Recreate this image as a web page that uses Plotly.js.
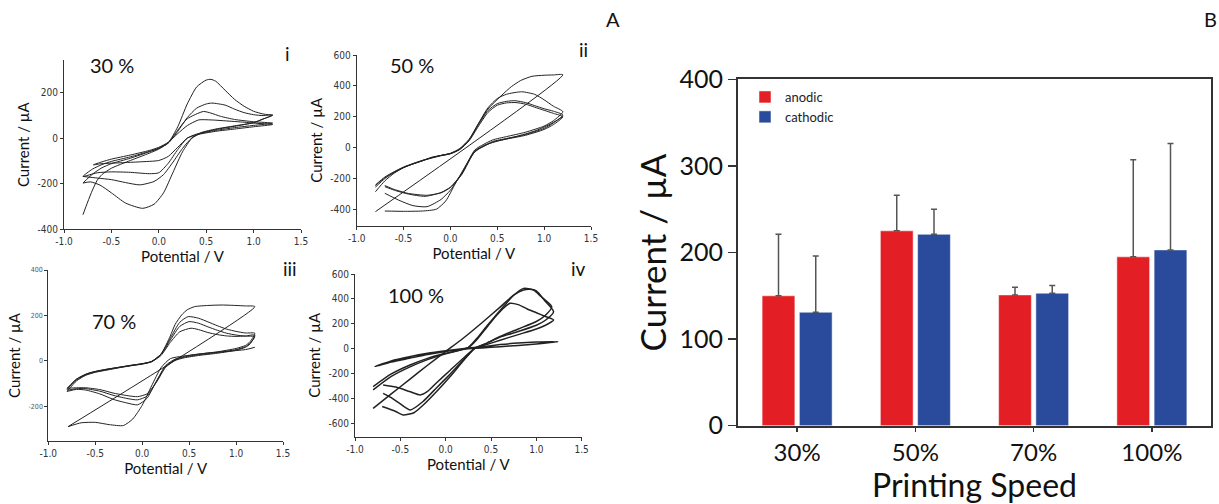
<!DOCTYPE html>
<html>
<head>
<meta charset="utf-8">
<script src="https://cdn.plot.ly/plotly-3.0.1.min.js"></script>
<style>html,body{margin:0;padding:0;background:#fff;}#chart{width:1219px;height:504px;}</style>
</head>
<body>
<div id="chart"></div>
<script>
// ---------- Panel i : 30 % ----------
var cv30_a_v = [-0.8,-0.75,-0.7,-0.65,-0.6,-0.5,-0.3,-0.1,0.0,0.1,0.2,0.3,0.4,0.5,0.55,0.6,0.7,0.8,0.9,1.0,1.1,1.2, 1.1,1.0,0.8,0.6,0.45,0.35,0.25,0.15,0.05,-0.05,-0.17,-0.35,-0.5,-0.62,-0.72,-0.8];
var cv30_a_i = [-336,-280,-228,-185,-160,-132,-98,-66,-48,-20,50,150,225,255,258,250,210,170,140,118,106,100, 84,68,52,38,22,0,-60,-150,-240,-290,-308,-285,-240,-206,-192,-197];
var cv30_b_v = [-0.8,-0.7,-0.6,-0.5,-0.3,-0.1,0.0,0.1,0.2,0.3,0.4,0.5,0.56,0.7,0.8,0.9,1.0,1.1,1.2, 1.1,1.0,0.8,0.6,0.45,0.35,0.25,0.15,0.05,-0.05,-0.2,-0.35,-0.5,-0.65,-0.8];
var cv30_b_i = [-197,-158,-130,-112,-88,-60,-45,-22,30,90,132,150,154,145,127,112,103,99,102, 84,68,54,40,25,2,-45,-105,-160,-190,-205,-195,-182,-175,-168];
var cv30_c_v = [-0.8,-0.7,-0.6,-0.5,-0.3,-0.1,0.0,0.1,0.2,0.3,0.47,0.55,0.65,0.8,1.0,1.2, 1.0,0.8,0.6,0.4,0.3,0.2,0.1,0.0,-0.1,-0.3,-0.5,-0.65,-0.8];
var cv30_c_i = [-168,-136,-116,-102,-82,-58,-44,-20,35,85,117,110,96,82,72,66, 56,46,34,18,0,-50,-110,-152,-156,-150,-148,-152,-168];
var cv30_d_v = [-0.69,-0.6,-0.5,-0.3,-0.1,0.0,0.1,0.2,0.3,0.42,0.55,0.7,0.9,1.0,1.2, 1.0,0.8,0.6,0.4,0.3,0.2,0.1,0.0,-0.2,-0.4,-0.6,-0.69];
var cv30_d_i = [-117,-104,-92,-74,-54,-40,-18,20,55,80,80,76,70,66,60, 50,40,30,15,0,-40,-80,-98,-104,-108,-112,-117];

// ---------- Panel ii : 50 % ----------
var cv50_a_v = [-0.8,1.2,1.1,1.0,0.87,0.75,0.65,0.55,0.45,0.4,0.3,0.2,0.1,0.0,-0.1,-0.2,-0.3,-0.5,-0.7,-0.8];
var cv50_a_i = [-414,472,471,469,462,435,395,341,282,250,155,50,-10,-38,-50,-62,-85,-128,-195,-245];
var cv50_b_v = [-0.8,-0.7,-0.6,-0.5,-0.4,-0.3,-0.2,-0.1,0.0,0.1,0.2,0.3,0.4,0.5,0.6,0.76,0.9,1.0,1.1,1.2, 1.1,1.0,0.8,0.6,0.45,0.35,0.26,0.12,0.0,-0.1,-0.25,-0.4,-0.55,-0.7];
var cv50_b_i = [-285,-215,-165,-130,-105,-85,-64,-50,-36,-5,55,158,258,318,346,362,345,310,268,233, 175,140,100,72,50,20,-15,-166,-275,-335,-382,-375,-340,-295];
var cv50_c_v = [-0.8,-0.7,-0.6,-0.5,-0.3,-0.1,0.0,0.1,0.2,0.3,0.4,0.5,0.6,0.69,0.8,0.9,1.0,1.1,1.2, 1.1,1.0,0.8,0.6,0.45,0.35,0.26,0.12,0.0,-0.1,-0.27,-0.45,-0.6,-0.7];
var cv50_c_i = [-241,-190,-155,-125,-82,-50,-38,-10,50,150,240,285,300,304,292,272,252,236,212, 160,125,85,60,40,10,-20,-170,-255,-290,-315,-300,-275,-252];
var cv50_d_v = [-0.8,-0.7,-0.6,-0.5,-0.3,-0.1,0.0,0.1,0.2,0.3,0.4,0.5,0.6,0.7,0.8,0.9,1.0,1.1,1.2, 1.1,1.0,0.8,0.6,0.45,0.35,0.26,0.12,0.0,-0.1,-0.25,-0.45,-0.6,-0.7];
var cv50_d_i = [-255,-200,-160,-128,-84,-52,-40,-12,45,140,228,275,290,292,282,262,242,222,200, 150,118,80,56,36,6,-25,-175,-258,-292,-308,-296,-270,-245];
var cv50_e_v = [-0.7,-0.5,-0.3,-0.15,-0.05,0.05,0.15,0.25,0.35,0.5,0.7,0.9,1.05,1.2];
var cv50_e_i = [-410,-412,-410,-398,-345,-235,-130,-35,12,42,72,108,148,200];

// ---------- Panel iii : 70 % ----------
var cv70_a_v = [-0.79,1.2,1.1,1.0,0.85,0.7,0.56,0.48,0.42,0.35,0.3,0.2,0.1,0.0,-0.1,-0.22,-0.4,-0.57,-0.7,-0.79];
var cv70_a_i = [-289,239,242,244,246,244,239,225,202,160,110,30,-2,-12,-18,-26,-38,-54,-80,-120];
var cv70_b_v = [-0.8,-0.7,-0.6,-0.5,-0.4,-0.22,-0.1,0.0,0.1,0.2,0.3,0.4,0.49,0.6,0.7,0.8,0.9,1.0,1.1,1.2, 1.15,1.1,1.0,0.8,0.6,0.45,0.35,0.25,0.15,0.05,-0.05,-0.15,-0.3,-0.45,-0.6,-0.7,-0.8];
var cv70_b_i = [-120,-80,-58,-46,-38,-26,-18,-12,-2,30,100,170,195,188,172,155,140,130,123,122, 85,68,55,40,30,20,8,-20,-90,-165,-193,-186,-170,-145,-128,-125,-134];
var cv70_c_v = [-0.8,-0.7,-0.6,-0.5,-0.4,-0.22,-0.1,0.0,0.1,0.2,0.3,0.4,0.5,0.6,0.7,0.8,0.9,1.0,1.1,1.2, 1.15,1.1,1.0,0.8,0.6,0.45,0.35,0.25,0.15,0.05,-0.05,-0.15,-0.3,-0.45,-0.6,-0.7,-0.8];
var cv70_c_i = [-127,-84,-60,-48,-40,-27,-19,-13,-3,28,92,152,173,166,150,135,122,114,109,107, 78,63,50,37,27,17,5,-24,-92,-155,-171,-166,-152,-133,-122,-122,-127];
var cv70_d_v = [-0.8,-0.7,-0.6,-0.5,-0.4,-0.22,-0.1,0.0,0.1,0.2,0.3,0.4,0.52,0.6,0.7,0.8,0.9,1.0,1.1,1.2, 1.15,1.1,1.0,0.8,0.6,0.45,0.35,0.25,0.15,0.05,-0.05,-0.15,-0.3,-0.45,-0.6,-0.7,-0.8];
var cv70_d_i = [-134,-88,-63,-50,-42,-28,-20,-14,-4,24,82,128,144,138,125,116,110,108,110,114, 75,60,47,34,24,14,2,-28,-95,-145,-157,-153,-142,-126,-118,-118,-120];
var cv70_e_v = [-0.79,-0.65,-0.5,-0.35,-0.2,-0.1,0.0,0.1,0.2,0.3,0.5,0.7,0.9,1.1,1.2];
var cv70_e_i = [-289,-272,-270,-280,-284,-255,-195,-110,-30,10,25,35,42,50,60];

// ---------- Panel iv : 100 % ----------
var cv100_a_v = [-0.78,-0.6,-0.4,-0.2,0.0,0.23,0.4,0.6,0.8,1.0,1.24, 1.0,0.8,0.6,0.4,0.2,0.0,-0.2,-0.4,-0.6,-0.78];
var cv100_a_i = [-141,-95,-62,-35,-15,5,18,35,48,55,58, 40,28,18,8,0,-20,-45,-75,-105,-141];
var cv100_b_v = [-0.8,-0.6,-0.4,-0.2,0.0,0.15,0.25,0.35,0.45,0.55,0.65,0.71,0.8,0.9,1.0,1.1,1.19, 1.1,1.0,0.8,0.6,0.45,0.32,0.2,0.05,-0.1,-0.2,-0.28,-0.4,-0.55,-0.69];
var cv100_b_i = [-301,-200,-130,-75,-35,-10,10,80,170,260,335,366,355,320,290,260,232, 190,160,115,70,35,5,-70,-170,-270,-340,-368,-340,-305,-288];
var cv100_c_v = [-0.8,-0.6,-0.4,-0.2,0.0,0.15,0.25,0.35,0.45,0.55,0.65,0.75,0.86,0.97,1.05,1.17, 1.1,1.0,0.8,0.6,0.45,0.32,0.2,0.05,-0.1,-0.25,-0.39,-0.5,-0.6,-0.69];
var cv100_c_i = [-328,-220,-145,-85,-38,-10,12,90,180,265,350,430,485,472,420,338, 270,220,160,100,45,5,-85,-200,-310,-420,-488,-440,-390,-355];
var cv100_d_v = [-0.8,-0.6,-0.4,-0.2,0.0,0.2,0.4,0.6,0.75,0.85,0.93,1.0,1.1,1.19, 1.1,1.0,0.8,0.6,0.45,0.32,0.2,0.05,-0.1,-0.25,-0.35,-0.47,-0.55,-0.7];
var cv100_d_i = [-475,-360,-245,-130,-20,90,210,335,430,470,478,465,380,298, 230,190,140,95,45,5,-90,-220,-340,-450,-510,-528,-500,-461];

// ---------- Panel B : peak currents ----------
var speeds = ['30%','50%','70%','100%'];
var anodic = [150,225,151,195];
var anodicErr = [71,41,9,112];
var cathodic = [131,221,153,203];
var cathodicErr = [65,29,9,123];

// ---------- tick labels ----------
var vTicks = [-1.0,-0.5,0.0,0.5,1.0,1.5];
var vTickText = ['-1.0','-0.5','0.0','0.5','1.0','1.5'];
var i30Ticks = [-400,-200,0,200];
var i30Text = ['-400','-200','0','200'];
var i50Ticks = [-400,-200,0,200,400,600];
var i50Text = ['-400','-200','0','200','400','600'];
var i70Ticks = [-200,0,200,400];
var i70Text = ['-200','0','200','400'];
var i100Ticks = [-600,-400,-200,0,200,400,600];
var i100Text = ['-600','-400','-200','0','200','400','600'];

var W = 1219, H = 504;
function px(x){ return x / W; }
function py(y){ return 1 - y / H; }

var lineCol = '#222';
function cvTrace(v, i, n, w){
  return {x: v, y: i, xaxis: 'x' + n, yaxis: 'y' + n, type: 'scatter', mode: 'lines',
          line: {color: lineCol, width: w || 1, shape: 'spline', smoothing: 0.6}, showlegend: false, hoverinfo: 'skip'};
}

var traces = [
  cvTrace(cv30_a_v, cv30_a_i, ''), cvTrace(cv30_b_v, cv30_b_i, ''), cvTrace(cv30_c_v, cv30_c_i, ''), cvTrace(cv30_d_v, cv30_d_i, ''),
  cvTrace(cv50_a_v, cv50_a_i, 2), cvTrace(cv50_b_v, cv50_b_i, 2), cvTrace(cv50_c_v, cv50_c_i, 2), cvTrace(cv50_d_v, cv50_d_i, 2), cvTrace(cv50_e_v, cv50_e_i, 2),
  cvTrace(cv70_a_v, cv70_a_i, 3), cvTrace(cv70_b_v, cv70_b_i, 3), cvTrace(cv70_c_v, cv70_c_i, 3), cvTrace(cv70_d_v, cv70_d_i, 3), cvTrace(cv70_e_v, cv70_e_i, 3),
  cvTrace(cv100_a_v, cv100_a_i, 4, 1.5), cvTrace(cv100_b_v, cv100_b_i, 4, 1.5), cvTrace(cv100_c_v, cv100_c_i, 4, 1.5), cvTrace(cv100_d_v, cv100_d_i, 4, 1.5)
];

var errCol = '#555';
traces.push({
  x: speeds, y: anodic, name: 'anodic', type: 'bar', xaxis: 'x5', yaxis: 'y5',
  marker: {color: '#E31E24', line: {color: 'rgba(255,255,255,0.5)', width: 1}},
  error_y: {type: 'data', symmetric: false, array: anodicErr, arrayminus: [0,0,0,0], color: errCol, thickness: 1.5, width: 3},
  hoverinfo: 'skip'
});
traces.push({
  x: speeds, y: cathodic, name: 'cathodic', type: 'bar', xaxis: 'x5', yaxis: 'y5',
  marker: {color: '#2A4B9B', line: {color: 'rgba(255,255,255,0.5)', width: 1}},
  error_y: {type: 'data', symmetric: false, array: cathodicErr, arrayminus: [0,0,0,0], color: errCol, thickness: 1.5, width: 3},
  hoverinfo: 'skip'
});

var tickFont = {family: '"Liberation Sans Narrow", "DejaVu Sans Condensed", Arial, sans-serif', size: 10, color: '#333'};
var titleFont = {family: 'Lato, "Open Sans", sans-serif', size: 15, color: '#111'};

function cvX(dom, anchor){
  return {domain: dom, anchor: anchor, range: [-1.0, 1.5], tickvals: vTicks, ticktext: vTickText,
          showline: true, linecolor: '#333', linewidth: 1, ticks: 'outside', ticklen: 3, tickcolor: '#333',
          showgrid: false, zeroline: false, tickfont: tickFont,
          title: {text: 'Potential / V', font: titleFont, standoff: 4}};
}
function cvY(dom, anchor, range, tv, tt, tf){
  return {domain: dom, anchor: anchor, range: range, tickvals: tv, ticktext: tt,
          showline: true, linecolor: '#333', linewidth: 1, ticks: 'outside', ticklen: 3, tickcolor: '#333',
          showgrid: false, zeroline: false, tickfont: tf || tickFont,
          title: {text: 'Current / µA', font: titleFont, standoff: 4}};
}

function label(text, x, y, size){
  return {text: text, x: px(x), y: py(y), xref: 'paper', yref: 'paper', xanchor: 'center', yanchor: 'middle',
          showarrow: false, font: {family: 'Lato, sans-serif', size: size, color: '#111'}};
}

var layout = {
  width: W, height: H,
  margin: {l: 0, r: 0, t: 0, b: 0},
  paper_bgcolor: '#fff', plot_bgcolor: 'rgba(0,0,0,0)',
  showlegend: true,
  barmode: 'group', bargap: 0.37, bargroupgap: 0.12,
  xaxis:  cvX([px(64), px(301)], 'y'),
  yaxis:  cvY([py(229.3), py(60)], 'x', [-400, 343], i30Ticks, i30Text),
  xaxis2: cvX([px(356.7), px(591)], 'y2'),
  yaxis2: cvY([py(225.7), py(55)], 'x2', [-505, 600], i50Ticks, i50Text),
  xaxis3: cvX([px(48.3), px(283)], 'y3'),
  yaxis3: cvY([py(441), py(270)], 'x3', [-352, 400], i70Ticks, i70Text,
              {family: tickFont.family, size: 7, color: '#555'}),
  xaxis4: cvX([px(355), px(581.7)], 'y4'),
  yaxis4: cvY([py(436.7), py(274)], 'x4', [-702, 600], i100Ticks, i100Text),
  xaxis5: {domain: [px(738), px(1211)], anchor: 'y5', type: 'category', range: [-0.5, 3.5],
           showline: true, mirror: true, linecolor: '#333', linewidth: 2,
           ticks: 'outside', ticklen: 4, tickwidth: 1.5, tickcolor: '#333', showgrid: false,
           tickfont: {family: 'Lato, sans-serif', size: 24, color: '#111'},
           title: {text: 'Printing Speed', font: {family: 'Lato, sans-serif', size: 32, color: '#111'}, standoff: 4}},
  yaxis5: {domain: [py(425.7), py(79.3)], anchor: 'x5', range: [0, 400], dtick: 100,
           showline: true, mirror: true, linecolor: '#333', linewidth: 2,
           ticks: 'outside', ticklen: 8, tickwidth: 1.5, tickcolor: '#333', showgrid: false, zeroline: false,
           tickfont: {family: 'Lato, sans-serif', size: 25, color: '#111'},
           title: {text: 'Current / µA', font: {family: 'Lato, sans-serif', size: 35, color: '#111'}, standoff: 2}},
  legend: {x: px(745), y: py(82), xanchor: 'left', yanchor: 'top', bgcolor: 'rgba(0,0,0,0)',
           font: {family: 'Lato, sans-serif', size: 13, color: '#222'}, tracegroupgap: 0},
  annotations: [
    label('A', 613, 19, 20),
    label('B', 1210, 19, 20),
    label('30 %', 112, 65, 20),
    label('i', 287, 54, 19),
    label('50 %', 412, 65, 20),
    label('ii', 583, 50, 19),
    label('70 %', 114, 321, 20),
    label('iii', 290, 268, 19),
    label('100 %', 416, 295, 20),
    label('iv', 578, 268, 19)
  ]
};

Plotly.newPlot('chart', traces, layout, {displayModeBar: false, staticPlot: true});
</script>
</body>
</html>
